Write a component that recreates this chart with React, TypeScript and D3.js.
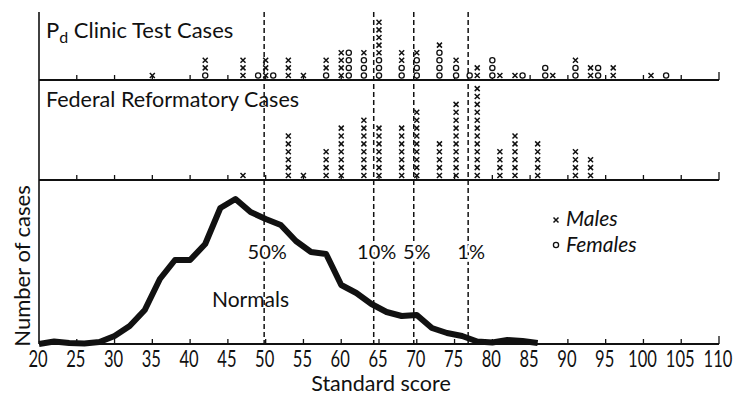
import React from "react";
import * as d3 from "d3";

// Normals: frequency curve (relative number of cases) by standard score
const normalScores = [20, 22, 24, 26, 28, 30, 32, 34, 36, 38, 40, 42, 44, 46, 48, 50, 52, 54, 56, 58, 60, 62, 64, 66, 68, 70, 72, 74, 76, 78, 80, 82, 84, 86];
const normalCounts = [0, 2.5, 1, 0.5, 2, 8, 18, 34, 65, 84, 84, 100, 136, 145, 132, 125, 119, 103, 92, 90, 59, 51, 40, 32, 28, 29, 16, 11, 8, 2.5, 1.5, 4, 3, 1];

// Pd clinic test cases: score, number of males, number of females
const clinicScores = [35, 42, 47, 49, 50, 51, 53, 55, 58, 60, 61, 63, 65, 68, 70, 73, 75.2, 77, 78, 80, 81, 83, 84, 87, 88, 91, 93, 94, 96, 101, 103];
const clinicMales = [1, 2, 3, 0, 3, 0, 3, 1, 2, 4, 0, 1, 5, 2, 1, 1, 1, 0, 2, 0, 1, 1, 0, 0, 1, 1, 2, 0, 2, 1, 0];
const clinicFemales = [0, 1, 0, 1, 0, 1, 0, 0, 1, 0, 4, 3, 3, 2, 3, 4, 2, 1, 0, 3, 0, 0, 1, 2, 0, 2, 0, 2, 0, 0, 1];

// Federal reformatory cases (all males)
const reformScores = [47, 53, 55, 58, 60, 63, 65, 68, 70, 73, 75.2, 78, 81, 83, 86, 91, 93];
const reformMales = [1, 6, 1, 4, 7, 8, 7, 7, 9, 5, 10, 12, 4, 6, 5, 4, 3];

// Percentile cut-offs of the normals
const cutoffScores = [49.8, 64.3, 69.6, 76.8];
const cutoffLabels = ["50%", "10%", "5%", "1%"];

const xTicks = [20, 25, 30, 35, 40, 45, 50, 55, 60, 65, 70, 75, 80, 85, 90, 95, 100, 105, 110];

const W = 734;
const H = 403;
const TOP = 12;
const BASE1 = 80;
const BASE2 = 180;
const BASE3 = 344;
const FONT = "Lato, 'Open Sans', sans-serif";
const INK = "#111";

const x = d3.scaleLinear().domain([20, 110]).range([39, 719]);
const y = d3.scaleLinear().domain([0, 145]).range([BASE3, 199]);

const Cross = ({ cx, cy }: { cx: number; cy: number }) => (
  <path
    d={`M${cx - 2.5},${cy - 2.5}L${cx + 2.5},${cy + 2.5}M${cx - 2.5},${cy + 2.5}L${cx + 2.5},${cy - 2.5}`}
    stroke={INK}
    strokeWidth={1.5}
  />
);

const Ring = ({ cx, cy }: { cx: number; cy: number }) => (
  <circle cx={cx} cy={cy} r={2.6} fill="#fff" stroke={INK} strokeWidth={1.3} />
);

// stacked markers: females at the bottom, males on top
const Stack = ({ score, males, females, base, gap }: { score: number; males: number; females: number; base: number; gap: number }) => {
  const cx = x(score);
  const slot = (i: number) => base - 4.5 - i * gap;
  const marks = [];
  for (let i = 0; i < females; i++) marks.push(<Ring key={"f" + i} cx={cx} cy={slot(i)} />);
  for (let i = 0; i < males; i++) marks.push(<Cross key={"m" + i} cx={cx} cy={slot(females + i)} />);
  return <g>{marks}</g>;
};

const Baseline = ({ yPos }: { yPos: number }) => (
  <g>
    <line x1={x(20)} x2={x(110)} y1={yPos} y2={yPos} stroke={INK} strokeWidth={1.8} />
    {xTicks.slice(1).map((t) => (
      <line key={t} x1={x(t)} x2={x(t)} y1={yPos} y2={yPos - (t === 110 ? 8 : 5)} stroke={INK} strokeWidth={1.3} />
    ))}
  </g>
);

export default function App() {
  const line = d3
    .line<number>()
    .x((_, i) => x(normalScores[i]))
    .y((d) => y(d));

  return (
    <svg width={W} height={H} style={{ position: "absolute", left: 0, top: 0, background: "#fff" }} fontFamily={FONT}>
      <rect width={W} height={H} fill="#fff" />

      {/* frame */}
      <line x1={x(20)} x2={x(20)} y1={TOP} y2={BASE3} stroke={INK} strokeWidth={1.6} />
      <Baseline yPos={BASE1} />
      <Baseline yPos={BASE2} />
      <Baseline yPos={BASE3} />

      {/* cut-off lines */}
      {cutoffScores.map((s) => (
        <line key={s} x1={x(s)} x2={x(s)} y1={TOP} y2={BASE3} stroke={INK} strokeWidth={1.5} strokeDasharray="5 3" />
      ))}
      {cutoffScores.map((s, i) => (
        <text
          key={"l" + s}
          x={x(s) + 3}
          y={259}
          fontSize={20}
          textAnchor="middle"
          fill={INK}
          stroke="#fff"
          strokeWidth={5}
          paintOrder="stroke"
        >
          {cutoffLabels[i]}
        </text>
      ))}

      {/* panel titles */}
      <text x={46} y={38} fontSize={22} fill={INK}>
        P<tspan fontSize={16} dy={5}>d</tspan>
        <tspan dy={-5}> Clinic Test Cases</tspan>
      </text>
      <text x={46} y={107} fontSize={21.5} fill={INK}>
        Federal Reformatory Cases
      </text>

      {/* dot stacks */}
      {clinicScores.map((s, i) => (
        <Stack key={"c" + s} score={s} males={clinicMales[i]} females={clinicFemales[i]} base={BASE1} gap={7.6} />
      ))}
      {reformScores.map((s, i) => (
        <Stack key={"r" + s} score={s} males={reformMales[i]} females={0} base={BASE2} gap={7.9} />
      ))}

      {/* normals curve */}
      <path d={line(normalCounts) || ""} fill="none" stroke={INK} strokeWidth={6} strokeLinejoin="round" />
      <text x={212} y={307} fontSize={21} fill={INK}>
        Normals
      </text>

      {/* legend */}
      <Cross cx={556} cy={220} />
      <text x={566} y={226} fontSize={21} fontStyle="italic" fill={INK}>
        Males
      </text>
      <Ring cx={556} cy={245} />
      <text x={566} y={252} fontSize={21} fontStyle="italic" fill={INK}>
        Females
      </text>

      {/* axes labels */}
      {xTicks.map((t) => (
        <text
          key={t}
          transform={`translate(${x(t) - 1},367) scale(0.72,1)`}
          fontSize={23}
          textAnchor="middle"
          fill={INK}
        >
          {t}
        </text>
      ))}
      <text x={381} y={391} fontSize={21.5} textAnchor="middle" fill={INK}>
        Standard score
      </text>
      <text transform={`translate(30,${266}) rotate(-90)`} fontSize={22} textAnchor="middle" fill={INK}>
        Number of cases
      </text>
    </svg>
  );
}
